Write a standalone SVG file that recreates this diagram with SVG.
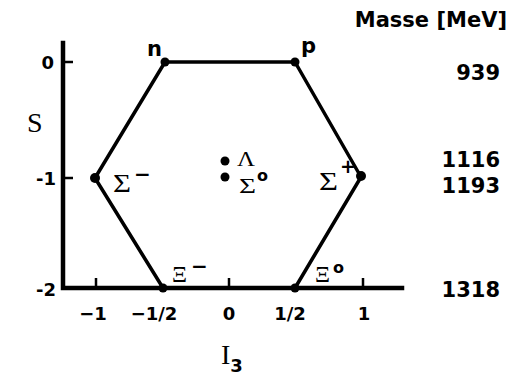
<svg xmlns="http://www.w3.org/2000/svg" width="510" height="375" viewBox="0 0 510 375">
<style>
.lbl{font-family:"DejaVu Sans","Liberation Sans",sans-serif;font-weight:bold;fill:#000}
.ser{font-family:"Liberation Serif","DejaVu Serif",serif;fill:#000}
.edge{stroke:#000;stroke-width:3.5;fill:none;stroke-linejoin:round}
.axis{stroke:#000;stroke-width:4.5;fill:none;stroke-linecap:square}
.tick{stroke:#000;stroke-width:2.5}
.dot{fill:#000}
</style>
<rect width="510" height="375" fill="#fff"/>
<g id="axes">
<polyline class="axis" points="63,43 63,288 402,288"/>
<line class="tick" x1="63" y1="62" x2="73" y2="62"/>
<line class="tick" x1="63" y1="178" x2="73" y2="178"/>
<line class="tick" x1="96" y1="288" x2="96" y2="278"/>
<line class="tick" x1="229" y1="288" x2="229" y2="278"/>
<line class="tick" x1="363" y1="288" x2="363" y2="278"/>
<text class="lbl" x="54" y="69" font-size="18" text-anchor="end">0</text>
<text class="lbl" x="56" y="185" font-size="18" text-anchor="end">-1</text>
<text class="lbl" x="56" y="296" font-size="18" text-anchor="end">-2</text>
<text class="lbl" x="93" y="320" font-size="18" text-anchor="middle">−1</text>
<text class="lbl" x="154" y="320" font-size="18" text-anchor="middle">−1/2</text>
<text class="lbl" x="229" y="320" font-size="18" text-anchor="middle">0</text>
<text class="lbl" x="290" y="320" font-size="18" text-anchor="middle">1/2</text>
<text class="lbl" x="364" y="320" font-size="18" text-anchor="middle">1</text>
<text class="ser" x="27" y="132" font-size="28">S</text>
<text class="ser" x="221" y="364" font-size="28">I<tspan class="lbl" font-size="18" dy="8">3</tspan></text>
</g>
<g id="connectors">
<polygon class="edge" points="165,62 295,62 361,177 295,288 163,288 95,178"/>
</g>
<g id="n"><circle class="dot" cx="165" cy="62" r="4.5"/><text class="lbl" x="147" y="56" font-size="21">n</text></g>
<g id="p"><circle class="dot" cx="295" cy="62" r="4.5"/><text class="lbl" x="301" y="53" font-size="21">p</text></g>
<g id="sigma-minus"><circle class="dot" cx="95" cy="178" r="5"/><text class="ser" x="113" y="192" font-size="25" textLength="18" lengthAdjust="spacingAndGlyphs">Σ</text><text class="lbl" x="134" y="181" font-size="20">−</text></g>
<g id="sigma-plus"><circle class="dot" cx="361" cy="176" r="5"/><text class="ser" x="319" y="190" font-size="25" textLength="19" lengthAdjust="spacingAndGlyphs">Σ</text><text class="lbl" x="340" y="173" font-size="19">+</text></g>
<g id="lambda"><circle class="dot" cx="225" cy="161" r="4.5"/><text class="ser" x="237" y="166" font-size="22" textLength="18" lengthAdjust="spacingAndGlyphs">Λ</text></g>
<g id="sigma0"><circle class="dot" cx="225" cy="177" r="4.5"/><text class="ser" x="239" y="193" font-size="22" textLength="17" lengthAdjust="spacingAndGlyphs">Σ</text><text class="lbl" x="257" y="181" font-size="16">o</text></g>
<g id="xi-minus"><circle class="dot" cx="163" cy="288" r="4.5"/><text class="ser" x="172" y="282" font-size="24" textLength="15" lengthAdjust="spacingAndGlyphs">Ξ</text><text class="lbl" x="191" y="273" font-size="20">−</text></g>
<g id="xi0"><circle class="dot" cx="295" cy="288" r="4.5"/><text class="ser" x="315" y="282" font-size="24" textLength="15" lengthAdjust="spacingAndGlyphs">Ξ</text><text class="lbl" x="333" y="273" font-size="16">o</text></g>
<g id="masses">
<text class="lbl" x="507" y="27" font-size="21" text-anchor="end">Masse [MeV]</text>
<text class="lbl" x="500" y="80" font-size="21" text-anchor="end">939</text>
<text class="lbl" x="500" y="167" font-size="21" text-anchor="end">1116</text>
<text class="lbl" x="500" y="193" font-size="21" text-anchor="end">1193</text>
<text class="lbl" x="500" y="297" font-size="21" text-anchor="end">1318</text>
</g>
</svg>
